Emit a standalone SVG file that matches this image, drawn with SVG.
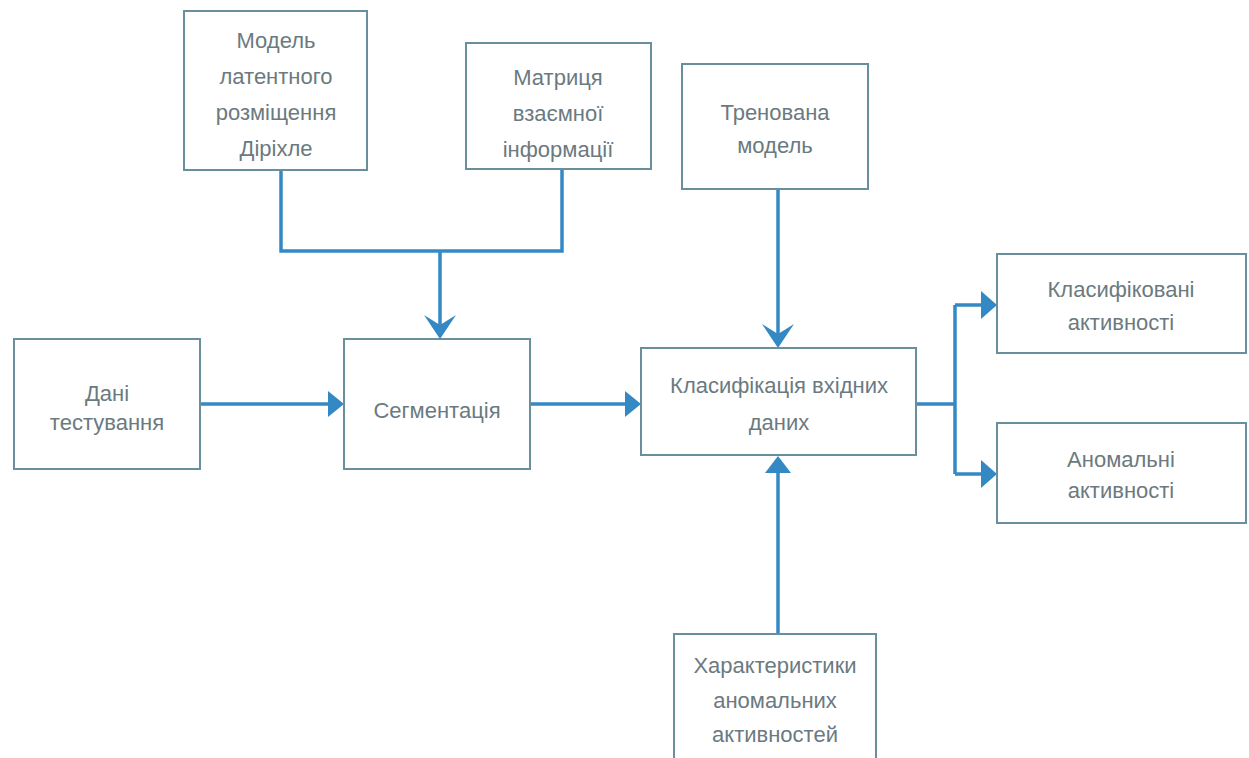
<svg xmlns="http://www.w3.org/2000/svg" width="1249" height="758" viewBox="0 0 1249 758">
<style>
.box{fill:#fff;stroke:#6a8f9c;stroke-width:2}
.t{font-family:"Liberation Sans",Arial,sans-serif;font-size:22px;fill:#6b7a80;text-anchor:middle}
.c{fill:none;stroke:#3489c4;stroke-width:3.5}
.ah{fill:#3489c4}
</style>
<rect width="1249" height="758" fill="#fff"/>
<g id="connectors">
<path class="c" d="M281,170 V251 H562 V169"/>
<path class="c" d="M440,251 V330"/>
<path class="ah" d="M440,339 L424,315 L440,325 L456,315 Z"/>
<path class="c" d="M200,404 H328"/>
<path class="ah" d="M344,404 L328,391 L328,417 Z"/>
<path class="c" d="M530,404 H626"/>
<path class="ah" d="M641,404 L625,391 L625,417 Z"/>
<path class="c" d="M778,189 V340"/>
<path class="ah" d="M778,348 L762,324 L778,334 L794,324 Z"/>
<path class="c" d="M778,634 V470"/>
<path class="ah" d="M778,456 L765,473 L791,473 Z"/>
<path class="c" d="M916,404 H955 M955,305 V474 M955,305 H982 M955,474 H982"/>
<path class="ah" d="M997,305 L981,291 L981,319 Z"/>
<path class="ah" d="M997,474 L981,460 L981,488 Z"/>
</g>
<g id="n1"><rect class="box" x="184" y="11" width="183" height="159"/>
<text class="t" x="276" y="48">Модель</text><text class="t" x="276" y="84">латентного</text><text class="t" x="276" y="120">розміщення</text><text class="t" x="276" y="156">Діріхле</text></g>
<g id="n2"><rect class="box" x="466" y="43" width="185" height="126"/>
<text class="t" x="558" y="85">Матриця</text><text class="t" x="558" y="121">взаємної</text><text class="t" x="558" y="157">інформації</text></g>
<g id="n3"><rect class="box" x="682" y="64" width="186" height="125"/>
<text class="t" x="775" y="120">Тренована</text><text class="t" x="775" y="153">модель</text></g>
<g id="n4"><rect class="box" x="14" y="339" width="186" height="130"/>
<text class="t" x="107" y="401">Дані</text><text class="t" x="107" y="430">тестування</text></g>
<g id="n5"><rect class="box" x="344" y="339" width="186" height="130"/>
<text class="t" x="437" y="418">Сегментація</text></g>
<g id="n6"><rect class="box" x="641" y="348" width="275" height="107"/>
<text class="t" x="779" y="393">Класифікація вхідних</text><text class="t" x="779" y="430">даних</text></g>
<g id="n7"><rect class="box" x="997" y="254" width="249" height="99"/>
<text class="t" x="1121" y="297">Класифіковані</text><text class="t" x="1121" y="330">активності</text></g>
<g id="n8"><rect class="box" x="997" y="423" width="249" height="100"/>
<text class="t" x="1121" y="467">Аномальні</text><text class="t" x="1121" y="498">активності</text></g>
<g id="n9"><rect class="box" x="674" y="634" width="202" height="130"/>
<text class="t" x="775" y="673">Характеристики</text><text class="t" x="775" y="708">аномальних</text><text class="t" x="775" y="742">активностей</text></g>
</svg>
